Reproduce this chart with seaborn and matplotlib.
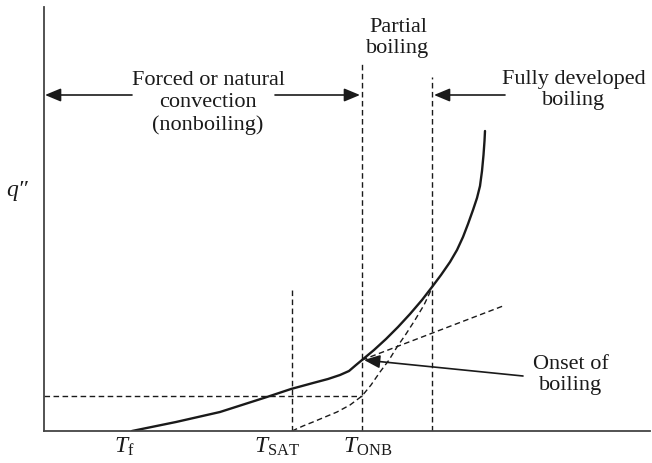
import numpy as np
import pandas as pd
import matplotlib
matplotlib.use("Agg")
import matplotlib.pyplot as plt
import seaborn as sns

# boiling curve, schematic units
boil_T = [88, 132, 176, 201, 226, 247, 269, 284, 296, 305, 312, 318, 330, 342, 354, 366, 378,
          388, 397, 406, 413, 419, 424, 429, 433, 436, 438, 439.5, 440.5, 441]
boil_q = [0, 9, 19, 27, 35, 42, 48, 52, 56, 60, 66, 71, 81, 92, 104, 117, 131,
          144, 156, 169, 181, 194, 207, 221, 233, 245, 260, 276, 290, 300]

# fully developed boiling curve extrapolated down to T_SAT
fdb_T = [248, 259, 269, 281, 293, 306, 318, 327, 336, 345, 353, 362, 371, 380, 388]
fdb_q = [0, 5, 9, 14, 19, 26, 35, 46, 59, 71, 84, 97, 111, 126, 143]

# single-phase convection extrapolated past onset
conv_T = [318, 459]
conv_q = [71, 125]

T_f, T_sat, T_onb, T_fdb = 88, 248, 318, 388
q_onb_sat = 35
tick_labels = ["$T_{\\mathrm{f}}$", "$T_{\\mathrm{SAT}}$", "$T_{\\mathrm{ONB}}$"]
tick_pos = [80, 233, 324]

sns.set_style("white")
plt.rcParams["font.family"] = ["Liberation Serif", "DejaVu Serif"]
plt.rcParams["mathtext.fontset"] = "custom"
plt.rcParams["mathtext.rm"] = "Liberation Serif"
plt.rcParams["mathtext.it"] = "Liberation Serif:italic"

fig = plt.figure(figsize=(6.52, 4.63), dpi=100)
ax = fig.add_axes([44 / 652, 32 / 463, 606 / 652, 424 / 463])
ax.set_xlim(0, 606)
ax.set_ylim(0, 424)

ink = "#1a1a1a"
dash = (0, (4, 2.5))

sns.lineplot(x=boil_T, y=boil_q, sort=False, estimator=None, color=ink, lw=1.7, ax=ax)
sns.lineplot(x=fdb_T, y=fdb_q, sort=False, estimator=None, color=ink, lw=1.0, linestyle=dash, ax=ax)
sns.lineplot(x=conv_T, y=conv_q, sort=False, estimator=None, color=ink, lw=1.0, linestyle=dash, ax=ax)

# guide lines
ax.plot([T_sat, T_sat], [0, 142], color=ink, lw=1.0, linestyle=dash)
ax.plot([T_onb, T_onb], [0, 368], color=ink, lw=1.0, linestyle=dash)
ax.plot([T_fdb, T_fdb], [0, 354], color=ink, lw=1.0, linestyle=dash)
ax.plot([0, T_onb], [q_onb_sat, q_onb_sat], color=ink, lw=1.0, linestyle=dash)

arrow = dict(arrowstyle="-|>,head_length=0.6,head_width=0.25", color=ink, lw=1.2,
             mutation_scale=16, shrinkA=0, shrinkB=0)
ax.annotate("", xy=(1, 336), xytext=(88, 336), arrowprops=arrow)
ax.annotate("", xy=(316, 336), xytext=(231, 336), arrowprops=arrow)
ax.annotate("", xy=(390, 336), xytext=(461, 336), arrowprops=arrow)
ax.annotate("", xy=(320, 71), xytext=(479, 55), arrowprops=arrow)

fs = 16
ls = 1.2
ax.text(164, 328, "Forced or natural\nconvection\n(nonboiling)", ha="center", va="center",
        fontsize=fs, linespacing=ls, color=ink)
ax.text(354, 393, "Partial\nboiling", ha="center", va="center", fontsize=fs, linespacing=ls, color=ink)
ax.text(530, 341, "Fully developed\nboiling", ha="center", va="center", fontsize=fs, linespacing=ls, color=ink)
ax.text(527, 56, "Onset of\nboiling", ha="center", va="center", fontsize=fs, linespacing=ls, color=ink)
ax.text(-27, 241, "q\u2033", ha="center", va="center", fontsize=fs + 1, style="italic", color=ink)

for x, lab in zip(tick_pos, tick_labels):
    ax.text(x, -16, lab, ha="center", va="center", fontsize=fs + 1, color=ink)

sns.despine(ax=ax)
for s in ["left", "bottom"]:
    ax.spines[s].set_color("#444444")
    ax.spines[s].set_linewidth(1.3)
ax.set_xticks([])
ax.set_yticks([])
ax.set_xlabel("")
ax.set_ylabel("")

fig.savefig("out.png", dpi=100)
